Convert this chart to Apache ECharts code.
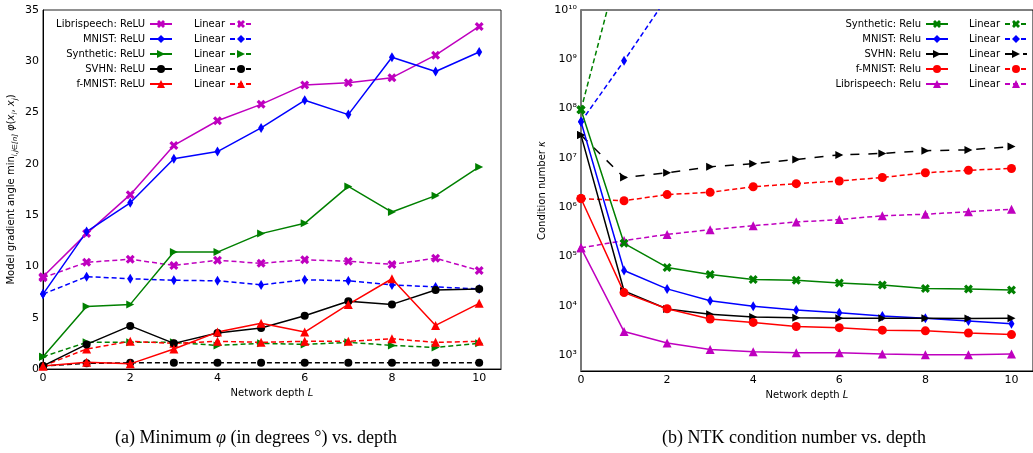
<!DOCTYPE html>
<html>
<head>
<meta charset="utf-8">
<script src="https://cdn.jsdelivr.net/npm/echarts/dist/echarts.min.js"></script>
<style>
  html, body { margin: 0; padding: 0; background: #fff; }
  #main { width: 1033px; height: 453px; }
</style>
</head>
<body>
<div id="main"></div>
<script>
// network depth L (shared x values)
var depth = [0, 1, 2, 3, 4, 5, 6, 7, 8, 9, 10];

// (a) minimum gradient angle, degrees
var libriReluA  = [9.0, 13.2, 17.0, 21.8, 24.2, 25.8, 27.7, 27.9, 28.4, 30.6, 33.4];
var libriLinA   = [8.9, 10.4, 10.7, 10.1, 10.6, 10.3, 10.65, 10.5, 10.2, 10.8, 9.6];
var mnistReluA  = [7.3, 13.4, 16.2, 20.5, 21.2, 23.5, 26.2, 24.8, 30.4, 29.0, 30.9];
var mnistLinA   = [7.3, 9.0, 8.8, 8.65, 8.6, 8.2, 8.7, 8.6, 8.2, 8.0, 7.8];
var synthReluA  = [1.2, 6.1, 6.3, 11.4, 11.4, 13.2, 14.2, 17.8, 15.3, 16.9, 19.7];
var synthLinA   = [1.2, 2.6, 2.6, 2.6, 2.3, 2.5, 2.4, 2.6, 2.3, 2.1, 2.5];
var svhnReluA   = [0.3, 2.4, 4.2, 2.5, 3.5, 4.0, 5.2, 6.6, 6.3, 7.7, 7.8];
var svhnLinA    = [0.3, 0.55, 0.6, 0.6, 0.6, 0.6, 0.6, 0.6, 0.6, 0.6, 0.6];
var fmnistReluA = [0.3, 0.65, 0.5, 1.95, 3.6, 4.45, 3.6, 6.3, 8.8, 4.25, 6.4];
var fmnistLinA  = [0.3, 1.95, 2.7, 2.5, 2.7, 2.6, 2.7, 2.7, 2.95, 2.6, 2.7];

// (b) NTK condition number
var synthReluB  = [9.5e7, 1.85e5, 6.0e4, 4.3e4, 3.4e4, 3.3e4, 2.9e4, 2.65e4, 2.25e4, 2.2e4, 2.1e4];
var synthLinB   = [9.5e7, 2e11, 6e11, 1e12, 1.2e10, 3e12, 8e12, 2e13, 5e13, 1e14, 3e14];
var mnistReluB  = [5.4e7, 5.2e4, 2.2e4, 1.26e4, 9.8e3, 8.2e3, 7.2e3, 6.2e3, 5.6e3, 4.9e3, 4.3e3];
var mnistLinB   = [5.4e7, 9.3e8, 1.8e10, 3e11, 5e12, 8e13, 1e15, 2e16, 3e17, 5e18, 8e19];
var svhnReluB   = [2.9e7, 2.0e4, 8.6e3, 6.7e3, 5.9e3, 5.7e3, 5.6e3, 5.6e3, 5.6e3, 5.5e3, 5.6e3];
var svhnLinB    = [2.9e7, 4.0e6, 5.0e6, 6.6e6, 7.6e6, 9.3e6, 1.15e7, 1.23e7, 1.4e7, 1.45e7, 1.7e7];
var fmnistReluB = [1.5e6, 1.85e4, 8.7e3, 5.4e3, 4.6e3, 3.8e3, 3.6e3, 3.2e3, 3.1e3, 2.8e3, 2.6e3];
var fmnistLinB  = [1.5e6, 1.35e6, 1.8e6, 2.0e6, 2.6e6, 3.0e6, 3.4e6, 4.0e6, 5.0e6, 5.6e6, 6.1e6];
var libriReluB  = [1.5e5, 3.0e3, 1.75e3, 1.3e3, 1.17e3, 1.12e3, 1.12e3, 1.05e3, 1.02e3, 1.02e3, 1.05e3];
var libriLinB   = [1.5e5, 2.1e5, 2.8e5, 3.5e5, 4.2e5, 5.0e5, 5.6e5, 6.7e5, 7.2e5, 8.1e5, 9.1e5];

// marker shapes (matplotlib-ish)
var mX = 'path://M0,2.5L2.5,0L5,2.5L7.5,0L10,2.5L7.5,5L10,7.5L7.5,10L5,7.5L2.5,10L0,7.5L2.5,5Z';
var mDiamond = 'path://M3,0L6,5L3,10L0,5Z';
var mRight = 'path://M0,0L10,5L0,10Z';

var C = { m: '#bf00bf', b: '#0000ff', g: '#008000', k: '#000000', r: '#ff0000' };

function line(name, vals, color, sym, size, dash, idx) {
  return {
    name: name,
    type: 'line',
    xAxisIndex: idx,
    yAxisIndex: idx,
    data: depth.map(function (d, i) { return [d, vals[i]]; }),
    symbol: sym,
    symbolSize: size,
    z: dash ? 2 : 3,
    lineStyle: { color: color, width: 1.5, type: dash || 'solid' },
    itemStyle: { color: color },
    animation: false
  };
}

var dsh = [5, 3];

var series = [
  line('Librispeech: ReLU', libriReluA, C.m, mX, 9, null, 0),
  line('Librispeech lin a', libriLinA, C.m, mX, 9, dsh, 0),
  line('MNIST: ReLU', mnistReluA, C.b, mDiamond, [6, 10], null, 0),
  line('MNIST lin a', mnistLinA, C.b, mDiamond, [6, 10], dsh, 0),
  line('Synthetic: ReLU', synthReluA, C.g, mRight, 8, null, 0),
  line('Synthetic lin a', synthLinA, C.g, mRight, 8, dsh, 0),
  line('SVHN: ReLU', svhnReluA, C.k, 'circle', 8, null, 0),
  line('SVHN lin a', svhnLinA, C.k, 'circle', 8, dsh, 0),
  line('f-MNIST: ReLU', fmnistReluA, C.r, 'triangle', 9, null, 0),
  line('f-MNIST lin a', fmnistLinA, C.r, 'triangle', 9, dsh, 0),

  line('Synthetic: Relu', synthReluB, C.g, mX, 9, null, 1),
  line('Synthetic lin b', synthLinB, C.g, mX, 9, dsh, 1),
  line('MNIST: Relu', mnistReluB, C.b, mDiamond, [6, 10], null, 1),
  line('MNIST lin b', mnistLinB, C.b, mDiamond, [6, 10], dsh, 1),
  line('SVHN: Relu', svhnReluB, C.k, mRight, 8, null, 1),
  line('SVHN lin b', svhnLinB, C.k, mRight, 8, [9, 9], 1),
  line('f-MNIST: Relu', fmnistReluB, C.r, 'circle', 9, null, 1),
  line('f-MNIST lin b', fmnistLinB, C.r, 'circle', 9, dsh, 1),
  line('Librispeech: Relu', libriReluB, C.m, 'triangle', 9, null, 1),
  line('Librispeech lin b', libriLinB, C.m, 'triangle', 9, dsh, 1)
];

// legends: one per entry so the text is right-aligned like matplotlib
var legRowsA = [['Librispeech: ReLU', 'Librispeech lin a'], ['MNIST: ReLU', 'MNIST lin a'],
  ['Synthetic: ReLU', 'Synthetic lin a'], ['SVHN: ReLU', 'SVHN lin a'], ['f-MNIST: ReLU', 'f-MNIST lin a']];
var legRowsB = [['Synthetic: Relu', 'Synthetic lin b'], ['MNIST: Relu', 'MNIST lin b'],
  ['SVHN: Relu', 'SVHN lin b'], ['f-MNIST: Relu', 'f-MNIST lin b'], ['Librispeech: Relu', 'Librispeech lin b']];

var legends = [];
function addLegends(rows, rights) {
  rows.forEach(function (row, r) {
    row.forEach(function (nm, c) {
      legends.push({
        data: [nm],
        right: rights[c],
        top: 19 + r * 15,
        align: 'right',
        itemWidth: 22,
        itemHeight: 10,
        padding: 0,
        selectedMode: false,
        formatter: c === 1 ? 'Linear' : '{name}',
        textStyle: { fontSize: 10, color: '#000', fontFamily: 'DejaVu Sans' }
      });
    });
  });
}
addLegends(legRowsA, [860, 780]);
addLegends(legRowsB, [84, 5]);

var sup = { '0': '⁰', '1': '¹', '2': '²', '3': '³', '4': '⁴', '5': '⁵', '6': '⁶', '7': '⁷', '8': '⁸', '9': '⁹' };
function pow10(v) {
  var e = Math.log10(v);
  if (Math.abs(e - Math.round(e)) > 1e-6) return '';
  return '10' + String(Math.round(e)).split('').map(function (ch) { return sup[ch]; }).join('');
}

var lbl = { fontSize: 11, color: '#000', fontFamily: 'DejaVu Sans', margin: 4 };
var axLine = { show: true, lineStyle: { color: '#000', width: 1 } };
var nameStyle = {
  fontSize: 10, color: '#000', fontFamily: 'DejaVu Sans',
  rich: {
    t: { fontSize: 10, fontFamily: 'DejaVu Sans', color: '#000', lineHeight: 16, verticalAlign: 'middle' },
    i: { fontSize: 10, fontFamily: 'DejaVu Sans', fontStyle: 'italic', color: '#000', lineHeight: 16, verticalAlign: 'middle' },
    s: { fontSize: 7, fontFamily: 'DejaVu Sans', fontStyle: 'italic', color: '#000', lineHeight: 16, verticalAlign: 'bottom' }
  }
};

var xAxisBase = {
  type: 'value', min: 0, max: 10.5, interval: 2,
  axisLine: axLine, axisTick: { show: false }, splitLine: { show: false },
  axisLabel: Object.assign({}, lbl, {
    showMaxLabel: false,
    formatter: function (v) { return v % 2 === 0 ? String(v) : ''; }
  }),
  name: '{t|Network depth }{i|L}', nameLocation: 'middle', nameGap: 15, nameTextStyle: nameStyle
};

var option = {
  animation: false,
  backgroundColor: '#fff',
  textStyle: { fontFamily: 'DejaVu Sans' },
  grid: [
    { left: 43, top: 10, width: 458, height: 359, show: true, borderColor: '#222', borderWidth: 1 },
    { left: 581, top: 10, width: 458, height: 361, show: true, borderColor: '#000', borderWidth: 1 }
  ],
  xAxis: [
    Object.assign({ gridIndex: 0 }, xAxisBase),
    Object.assign({ gridIndex: 1 }, xAxisBase, { nameGap: 13 })
  ],
  yAxis: [
    {
      gridIndex: 0, type: 'value', min: 0, max: 35, interval: 5,
      axisLine: axLine, axisTick: { show: false }, splitLine: { show: false },
      axisLabel: lbl,
      name: '{t|Model gradient angle }{t|min}{s|i,j∈[n]}{t| }{i|φ}{t|(}{i|x}{s|i}{t|, }{i|x}{s|j}{t|)}',
      nameLocation: 'middle', nameGap: 24, nameTextStyle: nameStyle
    },
    {
      gridIndex: 1, type: 'log', logBase: 10, min: 475, max: 1e10,
      axisLine: { show: true, lineStyle: { color: '#777', width: 2 } },
      axisTick: { show: false }, splitLine: { show: false }, minorTick: { show: false },
      axisLabel: Object.assign({}, lbl, { showMinLabel: false, formatter: pow10 }),
      name: '{t|Condition number }{i|κ}', nameLocation: 'middle', nameGap: 31, nameTextStyle: nameStyle
    }
  ],
  legend: legends,
  series: series,
  graphic: [
    {
      type: 'text', x: 256, y: 438,
      style: {
        text: '(a) Minimum {i|φ} (in degrees °) vs. depth',
        fontFamily: 'Liberation Serif', fontSize: 18, fill: '#000',
        align: 'center', verticalAlign: 'middle', textAlign: 'center', textVerticalAlign: 'middle',
        rich: { i: { fontFamily: 'Liberation Serif', fontSize: 18, fontStyle: 'italic' } }
      }
    },
    {
      type: 'text', x: 794, y: 438,
      style: {
        text: '(b) NTK condition number vs. depth',
        fontFamily: 'Liberation Serif', fontSize: 18, fill: '#000',
        align: 'center', verticalAlign: 'middle', textAlign: 'center', textVerticalAlign: 'middle'
      }
    }
  ]
};

var myChart = echarts.init(document.getElementById('main'));
myChart.setOption(option);
</script>
</body>
</html>
